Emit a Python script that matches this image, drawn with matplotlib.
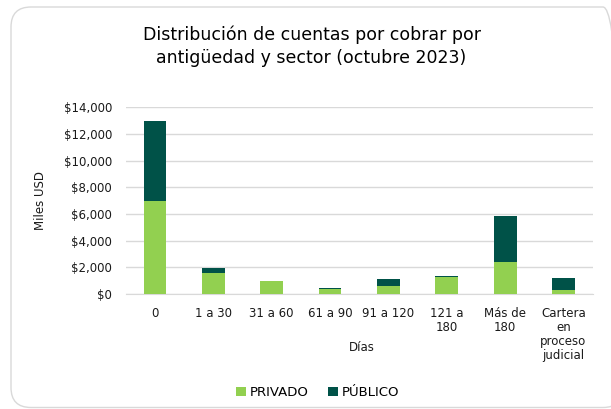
import numpy as np
import matplotlib.pyplot as plt
from matplotlib.patches import FancyBboxPatch
from matplotlib.transforms import IdentityTransform
from matplotlib.ticker import FuncFormatter

# datos (miles USD)
categorias = ["0", "1 a 30", "31 a 60", "61 a 90", "91 a 120", "121 a\n180", "Más de\n180",
              "Cartera\nen\nproceso\njudicial"]
privado = [6975, 1575, 950, 375, 600, 1250, 2425, 325]
publico = [6025, 400, 50, 100, 550, 125, 3450, 900]

verde_claro = "#92D050"
verde_oscuro = "#005248"

plt.rcParams['font.family'] = ['DejaVu Sans']

fig = plt.figure(figsize=(6.11, 4.09), dpi=100)
ax = fig.add_axes([0.206, 0.281, 0.764, 0.457])

x = np.arange(len(categorias))
ax.bar(x, privado, width=0.39, color=verde_claro, label="PRIVADO", zorder=3)
ax.bar(x, publico, width=0.39, bottom=privado, color=verde_oscuro, label="PÚBLICO", zorder=3)

ax.set_xlim(-0.5, len(categorias) - 0.5)
ax.set_ylim(0, 14000)
ax.set_yticks(np.arange(0, 14001, 2000))
ax.yaxis.set_major_formatter(FuncFormatter(lambda v, p: "${:,.0f}".format(v)))
ax.grid(axis="y", color="#D9D9D9", linewidth=1, zorder=0)
ax.set_xticks(x)
ax.set_xticklabels(categorias, fontsize=8.5, color="#1a1a1a", linespacing=1.1, va="top")
ax.tick_params(axis="y", labelsize=8.5, labelcolor="#1a1a1a", length=0, pad=10)
ax.tick_params(axis="x", length=0, pad=9)
for s in ["top", "right", "left"]:
    ax.spines[s].set_visible(False)
ax.spines["bottom"].set_color("#D9D9D9")

ax.set_ylabel("Miles USD", fontsize=8.5, labelpad=12, color="#1a1a1a")
fig.text(0.592, 0.143, "Días", ha="center", fontsize=8.5, color="#1a1a1a")

fig.text(0.51, 0.902, "Distribución de cuentas por cobrar por", ha="center", fontsize=12.5)
fig.text(0.51, 0.845, "antigüedad y sector (octubre 2023)", ha="center", fontsize=12.5)

fig.legend(loc="center", bbox_to_anchor=(0.52, 0.04), ncol=2, frameon=False, fontsize=9.5,
           handlelength=0.7, handleheight=0.7, handletextpad=0.3, columnspacing=1.5)

# marco redondeado (en pixeles), el borde derecho queda fuera de la imagen
borde = FancyBboxPatch((11, 1.5), 612, 400.5, boxstyle="round,pad=0,rounding_size=20",
                       transform=IdentityTransform(), facecolor="none", edgecolor="#D9D9D9",
                       linewidth=1)
fig.patches.append(borde)

fig.savefig("out.png", dpi=100)
